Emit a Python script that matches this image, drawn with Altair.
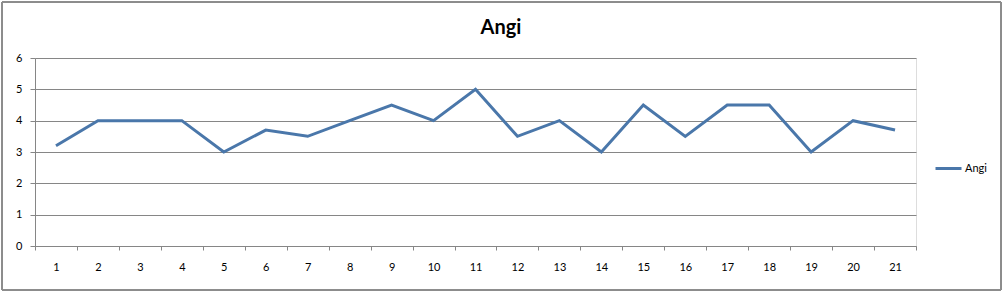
import altair as alt
import pandas as pd

series_name = "Angi"
categories = [str(i) for i in range(1, 22)]
values = [3.2, 4, 4, 4, 3, 3.7, 3.5, 4, 4.5, 4, 5, 3.5, 4, 3, 4.5, 3.5, 4.5, 4.5, 3, 4, 3.7]
y_ticks = [0, 1, 2, 3, 4, 5, 6]

df = pd.DataFrame({"cat": categories, "val": values, "series": series_name})

W, H = 881, 188
PL, PT, PR, PB = 35, 58, 90, 47
FONT = "Lato"

border = alt.Chart(df).mark_rect(fill=None, stroke="#8c8c8c", strokeWidth=1).encode(
    x=alt.value(-33), x2=alt.value(966), y=alt.value(-56), y2=alt.value(H + 44)
)

title = alt.Chart(pd.DataFrame({"t": [series_name]})).mark_text(
    fontSize=20, font=FONT, fontWeight="bold", color="#000000",
    align="center", baseline="alphabetic"
).encode(text="t:N", x=alt.value(466), y=alt.value(-24))

line = alt.Chart(df).mark_line(strokeWidth=3, color="#4a77aa").encode(
    x=alt.X("cat:O", sort=categories,
            scale=alt.Scale(type="band", paddingInner=0, paddingOuter=0),
            axis=alt.Axis(title=None, labelAngle=0, tickBand="extent", grid=False,
                          domainColor="#868686", tickColor="#868686", tickSize=4,
                          labelPadding=11, labelFontSize=11, labelFont=FONT,
                          labelColor="#000000")),
    y=alt.Y("val:Q", scale=alt.Scale(domain=[0, 6], nice=False),
            axis=alt.Axis(title=None, values=y_ticks, grid=True, gridColor="#868686",
                          domainColor="#868686", tickColor="#868686", tickSize=5,
                          labelPadding=8, labelFontSize=11, labelFont=FONT,
                          labelColor="#000000")),
    stroke=alt.Stroke("series:N", scale=alt.Scale(range=["#4a77aa"]),
                      legend=alt.Legend(title=None, orient="none", legendX=W + 18, legendY=96,
                                        symbolType="stroke", symbolSize=676,
                                        symbolStrokeWidth=3, labelFontSize=11,
                                        labelFont=FONT, labelColor="#000000",
                                        labelOffset=2)),
)

chart = alt.layer(border, title, line).properties(
    width=W, height=H,
    autosize=alt.AutoSizeParams(type="none"),
    padding={"left": PL, "top": PT, "right": PR, "bottom": PB},
).configure_view(stroke=None).configure(background="white")

chart.save("out.html", embed_options={"renderer": "svg", "actions": False})
